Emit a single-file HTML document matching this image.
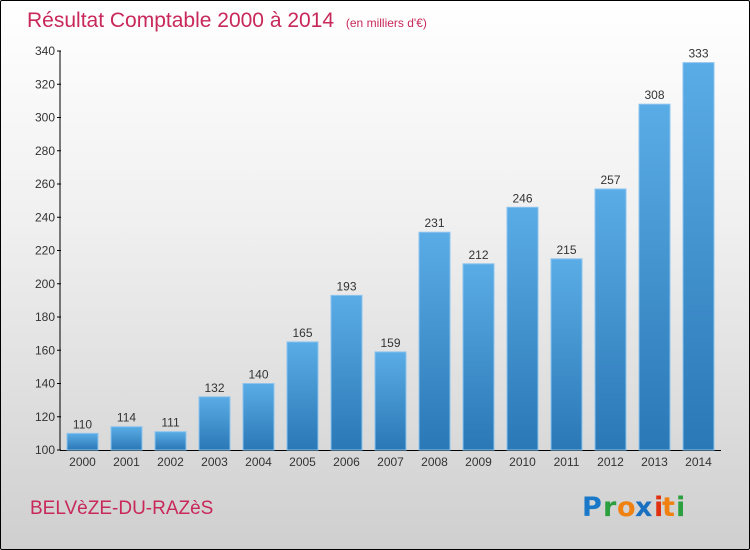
<!DOCTYPE html>
<html><head><meta charset="utf-8"><style>
body{margin:0}
#c{width:750px;height:550px;position:relative;box-sizing:border-box;border:1px solid #000;border-radius:2px;background:linear-gradient(#ffffff,#f0f0f0 40%,#cfcfcf);font-family:"Liberation Sans",sans-serif;overflow:hidden}
</style></head><body>
<div id="c">
<svg id="s" width="750" height="550" style="position:absolute;left:-1px;top:-1px">
<defs><linearGradient id="g" x1="0" y1="0" x2="0" y2="1"><stop offset="0" stop-color="#5aace6"/><stop offset="1" stop-color="#2a78b6"/></linearGradient></defs>
<text x="27" y="27" font-size="21" fill="#c8285a">Résultat Comptable 2000 à 2014 <tspan font-size="12" dx="6">(en milliers d'€)</tspan></text>
<text x="30" y="514" font-size="19" fill="#c8285a">BELVèZE-DU-RAZèS</text>
<g font-size="27" font-weight="bold" font-family="'DejaVu Sans',sans-serif">
<text x="582" y="516" fill="#1a78c8">P</text><text x="603" y="516" fill="#2ca040">r</text><text x="617" y="516" fill="#f08010">o</text><text x="635" y="516" fill="#1a70c0">x</text><text x="654" y="516" fill="#e03010">i</text><text x="662" y="516" fill="#f08010">t</text><text x="676" y="516" fill="#2ca040">i</text>
</g>
</svg>
</div>
<script>
const years=["2000","2001","2002","2003","2004","2005","2006","2007","2008","2009","2010","2011","2012","2013","2014"];
const values=[110,114,111,132,140,165,193,159,231,212,246,215,257,308,333];
const yTicks=[100,120,140,160,180,200,220,240,260,280,300,320,340];
const s=document.getElementById('s');const NS='http://www.w3.org/2000/svg';
function y(v){return 450-(v-100)*(399/240);}
function x(i){return 67+i*44;}
function mk(t,a,p){const e=document.createElementNS(NS,t);for(const k in a)e.setAttribute(k,a[k]);(p||s).appendChild(e);return e;}
const ax=mk('g',{});


mk('line',{x1:60,y1:51,x2:60,y2:450,stroke:'#000'},ax);
mk('line',{x1:60,y1:450.5,x2:721,y2:450.5,stroke:'#000'},ax);
yTicks.forEach(v=>{mk('line',{x1:57,x2:61,y1:y(v),y2:y(v),stroke:'#000'},ax);
const t=mk('text',{x:55,y:y(v)+4,'text-anchor':'end','font-size':12,fill:'#333'},ax);t.textContent=v;

});
values.forEach((v,i)=>{
const r=mk('rect',{x:x(i),y:y(v),width:31,height:450-y(v),fill:'url(#g)',stroke:'#8cc4ee','stroke-width':1});


const l=mk('text',{x:x(i)+15.5,y:y(v)-5,'text-anchor':'middle','font-size':12,fill:'#333'});l.textContent=v;


const xl=mk('text',{x:x(i)+15.5,y:466,'text-anchor':'middle','font-size':12,fill:'#333'});xl.textContent=years[i];


});
</script>
</body></html>
